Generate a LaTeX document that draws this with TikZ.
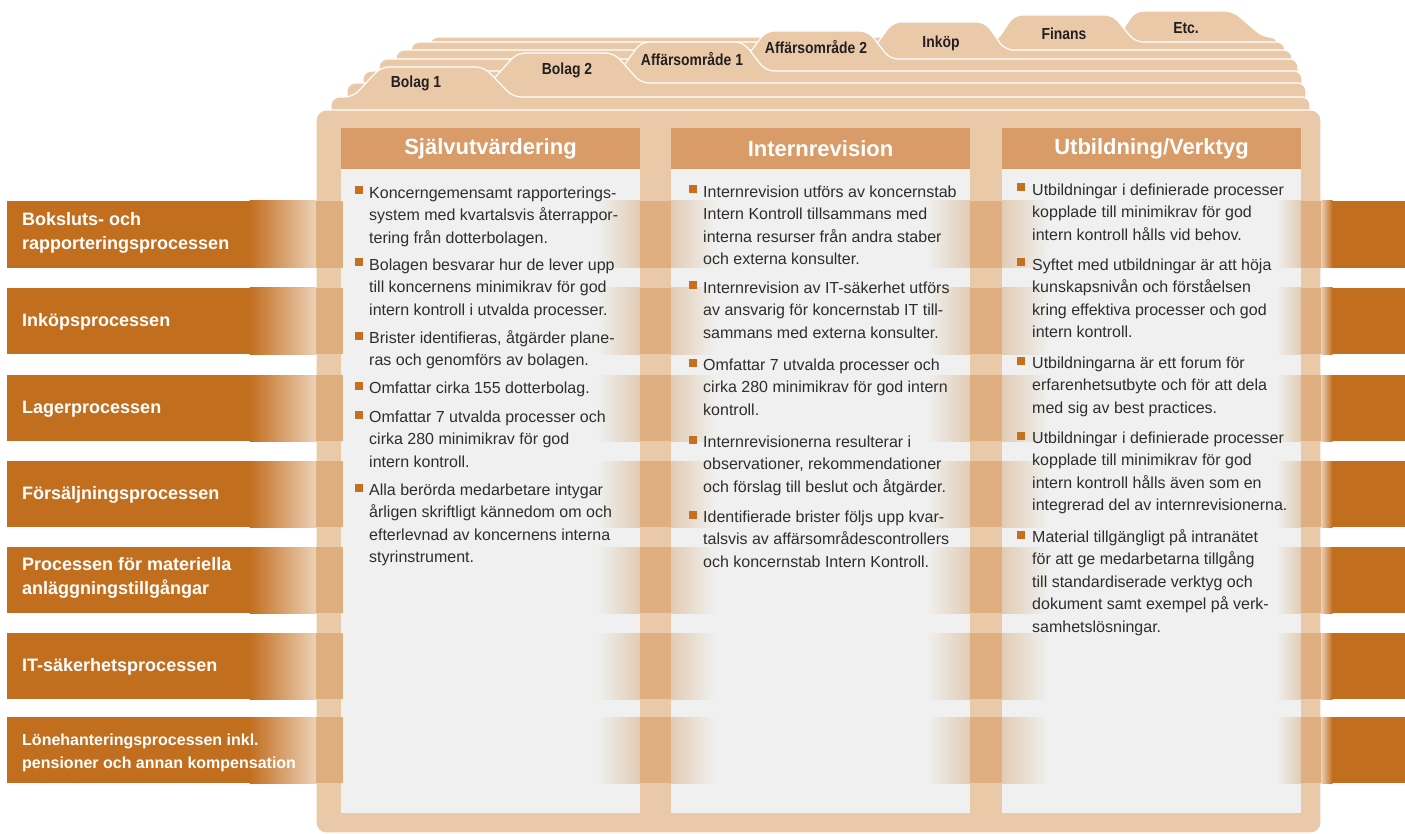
\documentclass[tikz,border=0pt]{standalone}
\usepackage{fontspec}
\setmainfont{Liberation Sans}
\newfontfamily\condfont[FakeStretch=0.87]{Liberation Sans}
\definecolor{cardc}{HTML}{EAC9A8}
\definecolor{headc}{HTML}{D99B67}
\definecolor{colbg}{HTML}{EFF0EF}
\definecolor{bandc}{HTML}{C26E1F}
\definecolor{bulc}{HTML}{C6701F}
\definecolor{txtc}{HTML}{2E2E2E}
\definecolor{tabtxt}{HTML}{231F20}
\colorlet{gutc}{bandc!28!cardc}
\colorlet{colt}{bandc!28!colbg}
\colorlet{edgew}{bandc!32!white}
\colorlet{edgef}{bandc!30!cardc}
% card: T, L, R, a, b, c, d, Ttab
\newcommand\tabcard[8]{\path[card] (#2,140) -- (#2,#1) -- (#4,#1) -- (#5,#8) -- (#6,#8) -- (#7,#1) -- (#3,#1) -- (#3,140) -- cycle;}
% bullet item: name, bullet x, text x, baseline, text
\newcommand\bitem[5]{%
  \node[bsq] (#1s) at ({#2},{#4-7.5}) {};
  \node[btxt] (#1) at ({#3},{#4-13}) {\rule{0pt}{13pt}#5};}
\begin{document}
\begin{tikzpicture}[x=1pt,y=-1pt,
  card/.style={fill=cardc, draw=white, line width=1.2pt, rounded corners=8pt},
  tablbl/.style={font=\condfont\bfseries\fontsize{16}{18}\selectfont, text=tabtxt, inner sep=0pt, anchor=base},
  headbar/.style={fill=headc, draw=none, minimum width=299pt, minimum height=41pt, inner sep=0pt,
     font=\bfseries\fontsize{22}{24}\selectfont, text=white},
  colbody/.style={fill=colbg, draw=none},
  bandlbl/.style={font=\bfseries\fontsize{18}{24}\selectfont, text=white, inner sep=0pt, anchor=west, align=left},
  bandlbls/.style={font=\bfseries\fontsize{16}{23}\selectfont, text=white, inner sep=0pt, anchor=west, align=left},
  bsq/.style={fill=bulc, draw=none, minimum size=8pt, inner sep=0pt},
  btxt/.style={font=\fontsize{16}{22.5}\selectfont, text=txtc, inner sep=0pt, anchor=north west, align=left},
]
\useasboundingbox (0,0) rectangle (1405,834);

% ---------- stacked cards (back to front) ----------
\tabcard{37}{430}{1278}{1118}{1135}{1233}{1263}{11}
\tabcard{42}{411}{1285}{996}{1014}{1113}{1135}{15}
\tabcard{50}{396}{1292}{872}{893}{985}{1005}{22}
\tabcard{59}{379}{1298}{745}{766}{868}{890}{31}
\tabcard{71}{363}{1302}{620}{641}{743}{766}{42}
\tabcard{83}{347}{1306}{490}{517}{614}{641}{53}
\tabcard{97}{331}{1310}{353}{381}{484}{513}{67}

\node[tablbl] (tEtc) at (1186,34) {Etc.};
\node[tablbl] (tFin) at (1064,40) {Finans};
\node[tablbl] (tInk) at (941,48) {Inköp};
\node[tablbl] (tAf2) at (816,54) {Affärsområde 2};
\node[tablbl] (tAf1) at (692,66) {Affärsområde 1};
\node[tablbl] (tBo2) at (567,75) {Bolag 2};
\node[tablbl] (tBo1) at (416,88) {Bolag 1};

% ---------- front frame ----------
\path[card, rounded corners=10pt] (316,110) rectangle (1321,833);

% ---------- columns ----------
\fill[colbody] (341,169) rectangle (640,813);
\fill[colbody] (671,169) rectangle (970,813);
\fill[colbody] (1002,169) rectangle (1301,813);
\node[headbar] (h1) at (490.5,148.5) {Självutvärdering};
\node[headbar] (h2) at (820.5,148.5) {Internrevision};
\node[headbar] (h3) at (1151.5,148.5) {Utbildning/Verktyg};

% ---------- process bands ----------
\foreach \t/\b in {201/268, 288/354, 375/441, 461/527, 547/613, 633/699, 717/783}{
  \fill[bandc] (7,\t) rectangle (250,\b);
  \shade[left color=bandc, right color=edgew] (249.5,\t) rectangle (316,\b);
  \fill[edgef] (316,\t) rectangle (343,\b);
  \shade[left color=colbg, right color=colt] (597,\t) rectangle (640,\b);
  \fill[gutc] (640,\t) rectangle (671,\b);
  \shade[left color=colt, right color=colbg] (671,\t) rectangle (715,\b);
  \shade[left color=colbg, right color=colt] (927,\t) rectangle (970,\b);
  \fill[gutc] (970,\t) rectangle (1002,\b);
  \shade[left color=colt, right color=colbg] (1002,\t) rectangle (1048,\b);
  \shade[left color=colbg, right color=colt] (1276,\t) rectangle (1301,\b);
  \fill[gutc] (1301,\t) rectangle (1321,\b);
  \shade[left color=edgew, right color=bandc] (1321,\t) rectangle (1332.5,\b);
  \fill[bandc] (1332,\t) rectangle (1405,\b);
}
\node[bandlbl] (p1) at (22,232.5) {Boksluts- och\\rapporteringsprocessen};
\node[bandlbl] (p2) at (22,322) {Inköpsprocessen};
\node[bandlbl] (p3) at (22,409) {Lagerprocessen};
\node[bandlbl] (p4) at (22,495) {Försäljningsprocessen};
\node[bandlbl] (p5) at (22,578) {Processen för materiella\\anläggningstillgångar};
\node[bandlbl] (p6) at (22,667) {IT-säkerhetsprocessen};
\node[bandlbls] (p7) at (22,752.5) {Lönehanteringsprocessen inkl.\\pensioner och annan kompensation};

% ---------- column texts ----------
\bitem{a1}{359}{369}{198}{Koncerngemensamt rapporterings-\\system med kvartalsvis återrappor-\\tering från dotterbolagen.}
\bitem{a2}{359}{369}{270}{Bolagen besvarar hur de lever upp\\till koncernens minimikrav för god\\intern kontroll i utvalda processer.}
\bitem{a3}{359}{369}{343}{Brister identifieras, åtgärder plane-\\ras och genomförs av bolagen.}
\bitem{a4}{359}{369}{393}{Omfattar cirka 155 dotterbolag.}
\bitem{a5}{359}{369}{422}{Omfattar 7 utvalda processer och\\cirka 280 minimikrav för god\\intern kontroll.}
\bitem{a6}{359}{369}{495}{Alla berörda medarbetare intygar\\årligen skriftligt kännedom om och\\efterlevnad av koncernens interna\\styrinstrument.}

\bitem{b1}{692.5}{703}{197}{Internrevision utförs av koncernstab\\Intern Kontroll tillsammans med\\interna resurser från andra staber\\och externa konsulter.}
\bitem{b2}{692.5}{703}{293}{Internrevision av IT-säkerhet utförs\\av ansvarig för koncernstab IT till-\\sammans med externa konsulter.}
\bitem{b3}{692.5}{703}{370}{Omfattar 7 utvalda processer och\\cirka 280 minimikrav för god intern\\kontroll.}
\bitem{b4}{692.5}{703}{447}{Internrevisionerna resulterar i\\observationer, rekommendationer\\och förslag till beslut och åtgärder.}
\bitem{b5}{692.5}{703}{522}{Identifierade brister följs upp kvar-\\talsvis av affärsområdescontrollers\\och koncernstab Intern Kontroll.}

\bitem{c1}{1020.5}{1032}{195}{Utbildningar i definierade processer\\kopplade till minimikrav för god\\intern kontroll hålls vid behov.}
\bitem{c2}{1020.5}{1032}{270}{Syftet med utbildningar är att höja\\kunskapsnivån och förståelsen\\kring effektiva processer och god\\intern kontroll.}
\bitem{c3}{1020.5}{1032}{368}{Utbildningarna är ett forum för\\erfarenhetsutbyte och för att dela\\med sig av best practices.}
\bitem{c4}{1020.5}{1032}{443}{Utbildningar i definierade processer\\kopplade till minimikrav för god\\intern kontroll hålls även som en\\integrerad del av internrevisionerna.}
\bitem{c5}{1020.5}{1032}{542}{Material tillgängligt på intranätet\\för att ge medarbetarna tillgång\\till standardiserade verktyg och\\dokument samt exempel på verk-\\samhetslösningar.}
\end{tikzpicture}
\end{document}
